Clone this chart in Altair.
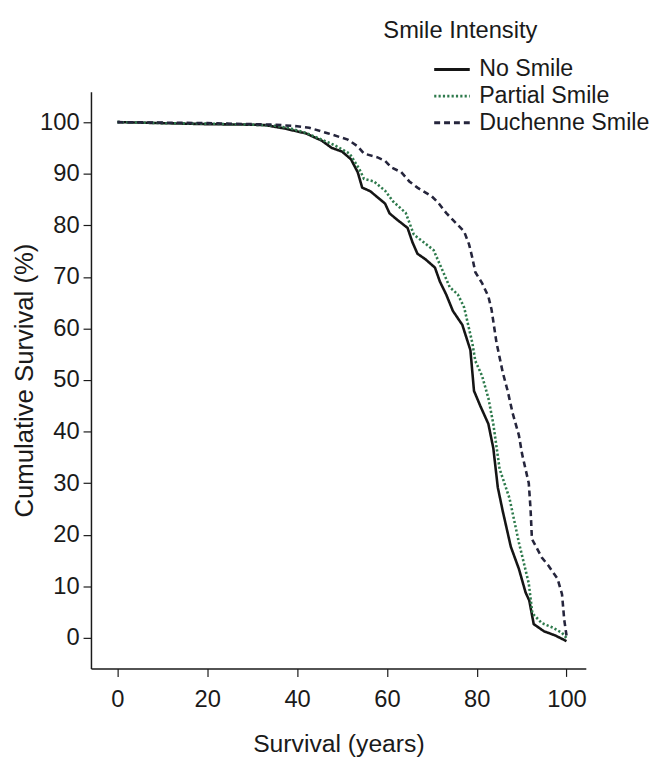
import altair as alt
import pandas as pd

series_names = ["No Smile", "Partial Smile", "Duchenne Smile"]
series_colors = ["#151515", "#2e7a4c", "#25253c"]
series_dashes = [[1, 0], [2.2, 2.2], [6, 4]]

no_smile_years = [0, 10, 20, 30, 33, 37, 42, 45.5, 47.7, 50, 52, 53.5, 54.5, 56.3, 58.1, 59.6, 60.6, 62.4,
                  64.6, 65.7, 66.8, 68.6, 70.7, 71.8, 73.2, 74.7, 76.1, 76.8, 78.6, 79.4, 80.8, 82.6, 83.7,
                  84.7, 85.8, 87.6, 89.4, 90.9, 91.7, 92.7, 95, 97.5, 100]
no_smile_surv = [100, 99.8, 99.6, 99.5, 99.4, 98.8, 97.8, 96.4, 95.0, 94.3, 92.8, 90.3, 87.3, 86.6, 85.3,
                 84.2, 82.3, 81.0, 79.5, 76.7, 74.5, 73.4, 71.8, 69.1, 66.6, 63.4, 61.6, 60.7, 55.8, 47.9,
                 45.0, 41.5, 36.8, 29.2, 24.6, 17.7, 13.4, 8.8, 7.3, 2.7, 1.3, 0.5, -0.6]

partial_years = [0, 10, 20, 30, 35, 38, 42, 45.5, 48.4, 51.7, 53.8, 54.9, 57.1, 59.6, 61.4, 64.2, 66.0,
                 68.2, 70.4, 72.2, 74.0, 75.8, 77.2, 79.0, 79.7, 81.2, 82.6, 83.7, 85.1, 87.3, 89.4, 91.6,
                 92.4, 94.5, 97, 99, 100]
partial_surv = [100, 99.8, 99.7, 99.5, 99.3, 98.9, 97.9, 96.6, 95.5, 93.9, 91.0, 89.0, 88.5, 86.7, 84.6,
                82.4, 78.2, 76.7, 75.2, 71.6, 68.0, 66.6, 64.1, 57.3, 53.7, 50.8, 46.5, 41.5, 32.8, 27.1,
                18.5, 10.6, 4.8, 2.9, 2.0, 1.0, 0.0]

duchenne_years = [0, 10, 20, 30, 35, 40, 42.7, 47.0, 51.3, 53.5, 54.9, 57.8, 59.6, 61.0, 63.2, 65.0, 66.8,
                  70.0, 71.4, 73.2, 75.4, 77.2, 78.3, 79.0, 79.7, 81.2, 82.6, 83.3, 84.4, 85.8, 86.9, 88.0,
                  89.4, 90.1, 91.6, 92.0, 92.3, 94.5, 96, 98, 99, 99.5, 100]
duchenne_surv = [100, 99.9, 99.8, 99.6, 99.5, 99.2, 98.9, 97.8, 96.6, 95.3, 93.9, 93.2, 92.5, 91.2, 90.3,
                 88.5, 87.3, 85.6, 84.4, 82.4, 80.4, 78.8, 76.3, 73.8, 70.9, 68.8, 66.2, 63.7, 57.3, 51.5,
                 47.9, 43.6, 39.3, 35.7, 30.0, 24.9, 19.2, 15.6, 14.0, 11.5, 8.5, 3.5, 0.5]

x_ticks = [0, 20, 40, 60, 80, 100]
y_ticks = [0, 10, 20, 30, 40, 50, 60, 70, 80, 90, 100]

rows = []
for name, xs, ys in [(series_names[0], no_smile_years, no_smile_surv),
                     (series_names[1], partial_years, partial_surv),
                     (series_names[2], duchenne_years, duchenne_surv)]:
    for i, (xv, yv) in enumerate(zip(xs, ys)):
        rows.append({"Smile": name, "years": xv, "survival": yv, "order": i})
df = pd.DataFrame(rows)

FONT = "Liberation Sans"

legend = alt.Legend(
    title=None,
    orient="none",
    legendX=346,
    legendY=-36,
    symbolType="stroke",
    symbolSize=1296,
    symbolStrokeWidth=3,
    labelFontSize=23.5,
    labelFont=FONT,
    labelColor="#1a1a1a",
    labelOffset=8,
    labelLimit=400,
    clipHeight=27,
    rowPadding=0,
)

chart = alt.Chart(df).mark_line(strokeWidth=2.6).encode(
    x=alt.X("years:Q", scale=alt.Scale(domain=[-5.9, 104.3], nice=False, zero=False),
            axis=alt.Axis(values=x_ticks, title="Survival (years)", grid=False)),
    y=alt.Y("survival:Q", scale=alt.Scale(domain=[-5.9, 105.9], nice=False, zero=False),
            axis=alt.Axis(values=y_ticks, title="Cumulative Survival (%)", grid=False)),
    color=alt.Color("Smile:N", scale=alt.Scale(domain=series_names, range=series_colors), legend=legend),
    strokeDash=alt.StrokeDash("Smile:N", scale=alt.Scale(domain=series_names, range=series_dashes), legend=legend),
    order="order:Q",
).properties(
    width=501,
    height=584,
    autosize=alt.AutoSizeParams(type="none"),
    padding={"left": 84, "top": 80, "right": 66, "bottom": 92},
    title=alt.TitleParams("Smile Intensity", anchor="start", frame="group", dx=296, offset=13, fontSize=24,
                          font=FONT, fontWeight="normal", color="#1a1a1a"),
).configure_view(stroke=None).configure_axis(
    domainColor="#1a1a1a",
    domainWidth=1.5,
    tickColor="#1a1a1a",
    tickWidth=1.2,
    tickSize=8,
    labelFont=FONT,
    labelFontSize=24,
    labelColor="#1a1a1a",
    titleFont=FONT,
    titleFontWeight="normal",
    titleColor="#1a1a1a",
).configure_axisX(labelPadding=11, titlePadding=21, titleFontSize=25).configure_axisY(
    labelPadding=4, titlePadding=2, titleFontSize=26)

chart.save("out.html", embed_options={"renderer": "svg", "actions": False})
